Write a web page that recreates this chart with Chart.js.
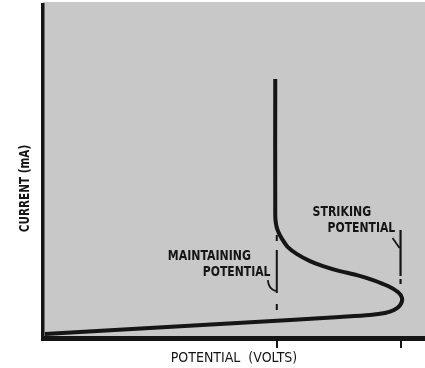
<!DOCTYPE html>
<html>
<head>
<meta charset="utf-8">
<script src="https://cdn.jsdelivr.net/npm/chart.js@4/dist/chart.umd.min.js"></script>
<style>
  html, body { margin: 0; padding: 0; background: #fff; }
</style>
</head>
<body>
<canvas id="glowChart" width="425" height="368"></canvas>
<script>
// current vs. potential of a glow discharge tube (arbitrary units on both axes)
const potential = [60.8, 60.8, 61.0, 61.5, 62.6, 64.1, 66.5, 69.9, 73.3, 77.7, 82.2, 86.4,
                   90.3, 92.9, 94.0, 93.5, 91.9, 89.5, 85.6, 77.7, 64.7, 32.5, 0.5];
const current = [77.8, 36.9, 34.2, 32.1, 29.7, 27.3, 25.2, 23.1, 21.6, 20.1, 18.9, 17.4,
                 15.6, 13.8, 12.0, 9.9, 8.4, 7.5, 6.9, 6.3, 5.4, 3.3, 1.2];

const maintainingPotential = 61.2;
const strikingPotential = 93.6;
// vertical extent (current) of the dash-dot marker lines
const maintainingMarker = [30.9, 8.4];
const strikingMarker = [32.4, 16.2];

const xTicks = [maintainingPotential, strikingPotential];

const INK = '#151515';
const FONT = "'DejaVu Sans Condensed', 'Liberation Sans Narrow', sans-serif";

const curve = potential.map((v, i) => ({ x: v, y: current[i] }));

// squeezed bold lettering, like the stencil text on the original plate
function label(ctx, text, x, y, size, squeeze, rotate) {
  ctx.save();
  ctx.translate(x, y);
  if (rotate) ctx.rotate(rotate);
  ctx.scale(squeeze, 1);
  ctx.font = '700 ' + size + 'px ' + FONT;
  ctx.fillText(text, 0, 0);
  ctx.restore();
}

const backdrop = {
  id: 'backdrop',
  beforeDraw(chart) {
    const { ctx, chartArea: a } = chart;
    ctx.save();
    ctx.fillStyle = '#fff';
    ctx.fillRect(0, 0, chart.width, chart.height);
    ctx.fillStyle = '#c8c8c8';
    ctx.fillRect(a.left, 2, a.right - a.left, a.bottom - 2);
    ctx.restore();
  }
};

const callouts = {
  id: 'callouts',
  afterDatasetsDraw(chart) {
    const { ctx, chartArea: a, scales: { x, y } } = chart;
    ctx.save();
    ctx.fillStyle = INK;
    ctx.strokeStyle = INK;
    ctx.textBaseline = 'middle';
    ctx.textAlign = 'left';
    ctx.lineWidth = 1.8;

    const mx = x.getPixelForValue(maintainingPotential);
    const mTop = y.getPixelForValue(maintainingMarker[0]);
    label(ctx, 'MAINTAINING', mx - 109, mTop + 21, 14, 0.87);
    label(ctx, 'POTENTIAL', mx - 74, mTop + 37, 14, 0.86);
    ctx.beginPath();
    ctx.moveTo(mx - 9, mTop + 45);
    ctx.quadraticCurveTo(mx - 8, mTop + 54, mx - 1, mTop + 56);
    ctx.stroke();

    const sx = x.getPixelForValue(strikingPotential);
    const sTop = y.getPixelForValue(strikingMarker[0]);
    label(ctx, 'STRIKING', sx - 88, sTop - 18, 14, 0.87);
    label(ctx, 'POTENTIAL', sx - 73, sTop - 2, 14, 0.86);
    ctx.beginPath();
    ctx.moveTo(sx - 8, sTop + 8);
    ctx.lineTo(sx - 1, sTop + 18);
    ctx.stroke();

    // vertical axis title, centred a little below the middle of the axis
    ctx.textAlign = 'center';
    label(ctx, 'CURRENT (mA)', 25, (a.top + a.bottom) / 2 + 17, 14, 0.83, -Math.PI / 2);
    ctx.restore();
  }
};

new Chart(document.getElementById('glowChart'), {
  type: 'scatter',
  data: {
    datasets: [
      {
        data: curve,
        showLine: true,
        borderColor: INK,
        borderWidth: 4,
        pointRadius: 0,
        tension: 0.3,
        clip: false
      },
      {
        data: maintainingMarker.map(v => ({ x: maintainingPotential, y: v })),
        showLine: true,
        borderColor: INK,
        borderWidth: 2,
        borderDash: [6, 9, 43, 11],
        pointRadius: 0
      },
      {
        data: strikingMarker.map(v => ({ x: strikingPotential, y: v })),
        showLine: true,
        borderColor: INK,
        borderWidth: 2.2,
        borderDash: [46, 3, 5, 60],
        pointRadius: 0
      }
    ]
  },
  options: {
    responsive: false,
    animation: false,
    layout: { padding: { top: 5, left: 0, right: 0, bottom: 0 } },
    plugins: { legend: { display: false }, tooltip: { enabled: false } },
    scales: {
      x: {
        type: 'linear',
        min: 0,
        max: 100,
        afterBuildTicks: s => { s.ticks = xTicks.map(v => ({ value: v })); },
        afterFit: s => { s.height = 30; },
        ticks: { display: false },
        grid: { drawOnChartArea: false, drawTicks: true, tickLength: 10, tickWidth: 2, tickColor: INK, lineWidth: 2 },
        border: { color: INK, width: 5 },
        title: {
          display: true,
          text: 'POTENTIAL  (VOLTS)',
          color: INK,
          font: { family: FONT, size: 14, weight: '400' },
          padding: { top: 0, bottom: 1 }
        }
      },
      y: {
        type: 'linear',
        min: 0,
        max: 100,
        afterFit: s => { s.width = 43; },
        ticks: { display: false },
        grid: { display: false },
        border: { color: INK, width: 3.5 },
        title: { display: false }
      }
    }
  },
  plugins: [backdrop, callouts]
});
</script>
</body>
</html>
